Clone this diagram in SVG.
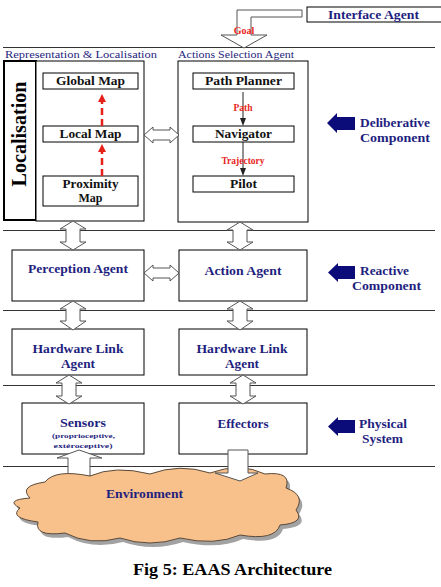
<svg xmlns="http://www.w3.org/2000/svg" width="441" height="587" viewBox="0 0 441 587">
<style>
.box{fill:#fff;stroke:#000;stroke-width:1}
.sep{stroke:#333;stroke-width:1}
.hol{fill:#fff;stroke:#555;stroke-width:1}
.navy{fill:#0b0b7a}
.lbl{font-family:"Liberation Serif",serif;font-weight:bold;font-size:12px;fill:#111;text-anchor:middle}
.bl{font-family:"Liberation Serif",serif;font-weight:bold;font-size:12px;fill:#1f1f80;text-anchor:middle}
.bls{font-family:"Liberation Serif",serif;font-weight:bold;font-size:12.5px;fill:#1f1f80}
.hdr{font-family:"Liberation Serif",serif;font-size:10px;fill:#1f1f80}
.red{font-family:"Liberation Serif",serif;font-weight:bold;font-size:9.5px;fill:#e8261c;text-anchor:middle}
</style>
<defs>
<path id="cloud" d="M30,498 Q18,486 45,482 Q55,469 90,476 Q115,465 150,474 Q180,463 210,473 Q240,462 265,474 Q292,471 286,488 Q306,495 296,510 Q306,523 280,525 Q275,541 240,535 Q215,546 180,538 Q150,548 120,538 Q90,546 65,533 Q34,537 38,522 Q8,518 20,508 Q4,500 30,498 Z"/>
</defs>

<g id="separators">
<line class="sep" x1="3" y1="47.5" x2="435" y2="47.5"/>
<line class="sep" x1="3" y1="230.5" x2="435" y2="230.5"/>
<line class="sep" x1="3" y1="310.5" x2="435" y2="310.5"/>
<line class="sep" x1="3" y1="385.5" x2="435" y2="385.5"/>
<line class="sep" x1="3" y1="466.5" x2="435" y2="466.5"/>
</g>

<g id="interface-agent">
<rect class="box" x="307" y="7" width="140" height="15"/>
<text class="bls" x="328" y="19" textLength="91" lengthAdjust="spacingAndGlyphs">Interface Agent</text>
</g>

<text class="hdr" x="5" y="58" textLength="152" lengthAdjust="spacingAndGlyphs">Representation  &amp; Localisation</text>
<text class="hdr" x="178" y="58" textLength="116" lengthAdjust="spacingAndGlyphs">Actions Selection Agent</text>

<g id="localisation">
<rect x="4" y="61" width="32" height="159" fill="#fff" stroke="#000" stroke-width="2"/>
<text transform="translate(26,134) rotate(-90)" font-family="Liberation Serif, serif" font-weight="bold" font-size="21" fill="#000" text-anchor="middle" textLength="105" lengthAdjust="spacingAndGlyphs">Localisation</text>
</g>

<g id="representation">
<rect class="box" x="36" y="61" width="108" height="160"/>
</g>
<g id="global-map">
<rect class="box" x="43" y="73" width="95" height="16"/>
<text class="lbl" x="90.5" y="85" textLength="69" lengthAdjust="spacingAndGlyphs">Global Map</text>
</g>
<g id="local-map">
<rect class="box" x="43" y="126" width="95" height="16"/>
<text class="lbl" x="90.5" y="138" textLength="62" lengthAdjust="spacingAndGlyphs">Local Map</text>
</g>
<g id="proximity-map">
<rect class="box" x="43" y="176" width="95" height="30"/>
<text class="lbl" x="90.5" y="188" textLength="56" lengthAdjust="spacingAndGlyphs">Proximity</text>
<text class="lbl" x="90.5" y="202">Map</text>
</g>

<g id="actions-selection">
<rect class="box" x="178" y="61" width="130" height="161"/>
</g>
<g id="path-planner">
<rect class="box" x="193" y="73" width="101" height="16"/>
<text class="lbl" x="243.5" y="85" textLength="77" lengthAdjust="spacingAndGlyphs">Path Planner</text>
</g>
<g id="navigator">
<rect class="box" x="193" y="126" width="101" height="16"/>
<text class="lbl" x="243.5" y="138" textLength="57" lengthAdjust="spacingAndGlyphs">Navigator</text>
</g>
<g id="pilot">
<rect class="box" x="193" y="176" width="101" height="16"/>
<text class="lbl" x="243.5" y="188" textLength="27" lengthAdjust="spacingAndGlyphs">Pilot</text>
</g>

<g id="perception-agent">
<rect class="box" x="12" y="250" width="132" height="51"/>
<text class="bl" x="78" y="273" textLength="100" lengthAdjust="spacingAndGlyphs">Perception Agent</text>
</g>
<g id="action-agent">
<rect class="box" x="179" y="250" width="128" height="51"/>
<text class="bl" x="243" y="275" textLength="77" lengthAdjust="spacingAndGlyphs">Action Agent</text>
</g>
<g id="hw-link-left">
<rect class="box" x="12" y="329" width="132" height="46"/>
<text class="bl" x="78" y="353" textLength="91" lengthAdjust="spacingAndGlyphs">Hardware Link</text>
<text class="bl" x="78" y="368" textLength="34" lengthAdjust="spacingAndGlyphs">Agent</text>
</g>
<g id="hw-link-right">
<rect class="box" x="179" y="329" width="128" height="46"/>
<text class="bl" x="242" y="353" textLength="91" lengthAdjust="spacingAndGlyphs">Hardware Link</text>
<text class="bl" x="242" y="368" textLength="34" lengthAdjust="spacingAndGlyphs">Agent</text>
</g>
<g id="sensors">
<rect class="box" x="22" y="403" width="122" height="51"/>
<text class="bl" x="83" y="427" style="font-size:13px" textLength="46" lengthAdjust="spacingAndGlyphs">Sensors</text>
<text class="bl" x="83.5" y="438" style="font-size:7px" textLength="63" lengthAdjust="spacingAndGlyphs">(proprioceptive,</text>
<text class="bl" x="83" y="448" style="font-size:7px" textLength="59" lengthAdjust="spacingAndGlyphs">extéroceptive)</text>
</g>
<g id="effectors">
<rect class="box" x="179" y="403" width="128" height="51"/>
<text class="bl" x="243" y="428" textLength="51" lengthAdjust="spacingAndGlyphs">Effectors</text>
</g>

<g id="deliberative">
<polygon class="navy" points="327,123 337,113 337,117 355,117 355,130 337,130 337,133"/>
<text class="bls" x="360" y="127" textLength="70" lengthAdjust="spacingAndGlyphs">Deliberative</text>
<text class="bls" x="360" y="142" textLength="70" lengthAdjust="spacingAndGlyphs">Component</text>
</g>
<g id="reactive">
<polygon class="navy" points="328,272.5 338,263 338,266 355,266 355,279 338,279 338,282"/>
<text class="bls" x="360" y="275" textLength="49" lengthAdjust="spacingAndGlyphs">Reactive</text>
<text class="bls" x="352" y="290" textLength="69" lengthAdjust="spacingAndGlyphs">Component</text>
</g>
<g id="physical">
<polygon class="navy" points="328,426.5 338,417 338,420 355,420 355,433 338,433 338,436"/>
<text class="bls" x="359" y="428" textLength="48" lengthAdjust="spacingAndGlyphs">Physical</text>
<text class="bls" x="362" y="443" textLength="41" lengthAdjust="spacingAndGlyphs">System</text>
</g>

<g id="connectors">
<polygon class="hol" points="302,10 237,10 237,35 221,35 244,48 267,35 251,35 251,17 302,17"/>
<text class="red" x="244" y="34" style="font-size:10px">Goal</text>

<line x1="102" y1="176" x2="102" y2="151" stroke="#e8201a" stroke-width="2.5" stroke-dasharray="7,4"/>
<polygon points="102,144 98,152 106,152" fill="#e8201a"/>
<line x1="102" y1="126" x2="102" y2="101" stroke="#e8201a" stroke-width="2.5" stroke-dasharray="7,4"/>
<polygon points="102,94 98,102 106,102" fill="#e8201a"/>

<line x1="243" y1="92" x2="243" y2="119" stroke="#222" stroke-width="1"/>
<polygon points="243,126 240,118 246,118" fill="#222"/>
<line x1="243" y1="142" x2="243" y2="169" stroke="#222" stroke-width="1"/>
<polygon points="243,176 240,168 246,168" fill="#222"/>
<text class="red" x="243" y="111">Path</text>
<text class="red" x="243" y="164">Trajectory</text>

<polygon class="hol" points="144,135 153,127 153,130 170,130 170,127 179,135 170,143 170,140 153,140 153,143"/>
<polygon class="hol" points="144,273 153,265 153,268 170,268 170,265 179,273 170,281 170,278 153,278 153,281"/>

<polygon class="hol" points="73,221 86,229 80,229 80,242 86,242 73,250 60,242 66,242 66,229 60,229"/>
<polygon class="hol" points="240,222 253,230 247,230 247,242 253,242 240,250 227,242 233,242 233,230 227,230"/>
<polygon class="hol" points="73,301 86,309 80,309 80,321 86,321 73,330 60,321 66,321 66,309 60,309"/>
<polygon class="hol" points="240,301 253,309 247,309 247,321 253,321 240,330 227,321 233,321 233,309 227,309"/>
<polygon class="hol" points="69,375 82,383 76,383 76,396 82,396 69,404 56,396 62,396 62,383 56,383"/>
<polygon class="hol" points="243,375 256,383 250,383 250,396 256,396 243,404 230,396 236,396 236,383 230,383"/>

<polygon class="hol" points="79,450 102,458 90,458 90,495 68,495 68,458 57,458"/>
</g>

<g id="environment">
<use href="#cloud" transform="translate(3,4)" fill="#555" opacity="0.55"/>
<use href="#cloud" fill="#f8c08a" stroke="#5a4a3a" stroke-width="1"/>
<text x="144.5" y="498" font-family="Liberation Serif, serif" font-weight="bold" font-size="13" fill="#1f1f80" text-anchor="middle" textLength="77" lengthAdjust="spacingAndGlyphs">Environment</text>
</g>

<g id="connectors-2">
<polygon class="hol" points="228,450 248,450 248,473 258,473 240,481 215,473 228,473"/>
</g>

<text x="232.5" y="575" font-family="Liberation Serif, serif" font-weight="bold" font-size="17.5" fill="#000" text-anchor="middle" textLength="199" lengthAdjust="spacingAndGlyphs">Fig 5: EAAS Architecture</text>
</svg>
